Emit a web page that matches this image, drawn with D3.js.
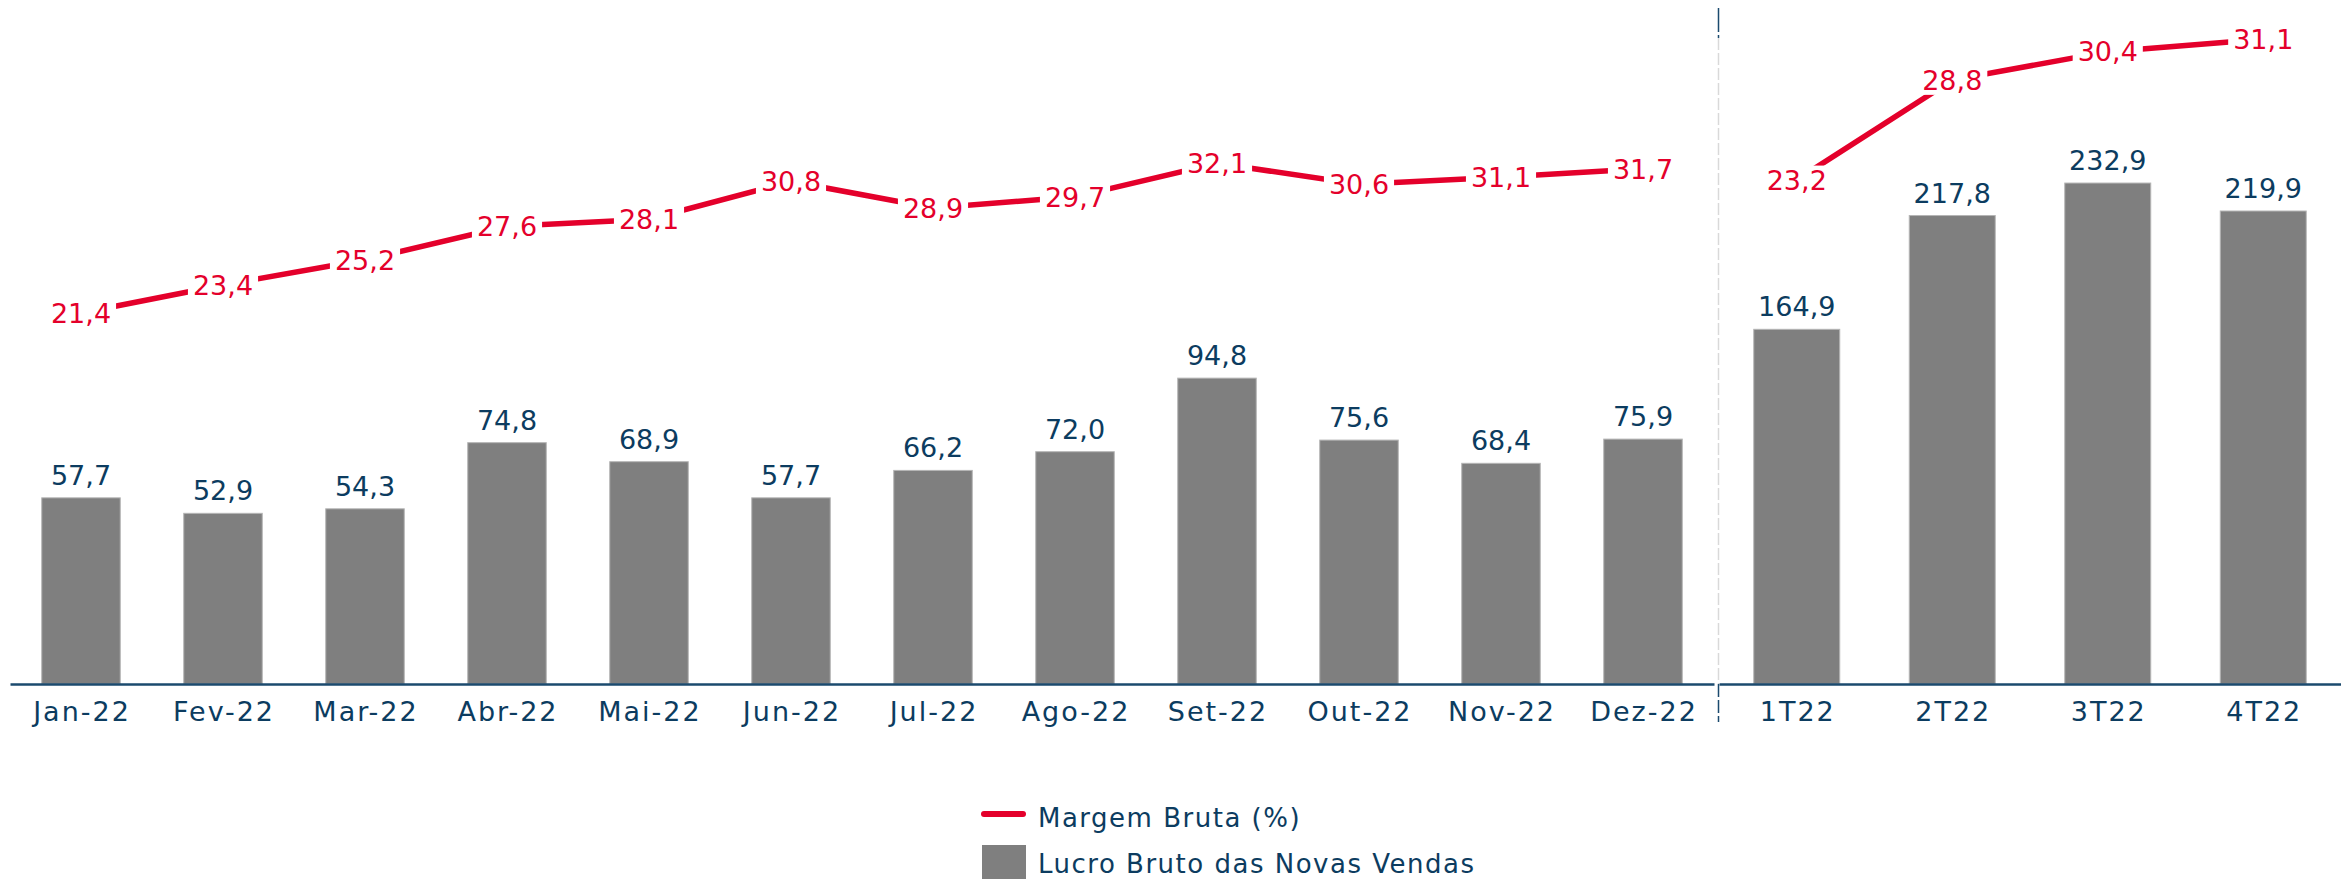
<!DOCTYPE html>
<html>
<head>
<meta charset="utf-8">
<script src="https://cdnjs.cloudflare.com/ajax/libs/d3/7.8.5/d3.min.js"></script>
<style>
  body { margin: 0; background: #fff; }
  svg { display: block; font-family: "DejaVu Sans", sans-serif; }
</style>
</head>
<body>
<svg id="chart" width="2341" height="879"></svg>
<script>
// dados mensais
const months = ["Jan-22", "Fev-22", "Mar-22", "Abr-22", "Mai-22", "Jun-22",
                "Jul-22", "Ago-22", "Set-22", "Out-22", "Nov-22", "Dez-22"];
const lucroMensal = [57.7, 52.9, 54.3, 74.8, 68.9, 57.7, 66.2, 72.0, 94.8, 75.6, 68.4, 75.9];
const margemMensal = [21.4, 23.4, 25.2, 27.6, 28.1, 30.8, 28.9, 29.7, 32.1, 30.6, 31.1, 31.7];

// dados trimestrais
const quarters = ["1T22", "2T22", "3T22", "4T22"];
const lucroTrimestral = [164.9, 217.8, 232.9, 219.9];
const margemTrimestral = [23.2, 28.8, 30.4, 31.1];

const legendItems = ["Margem Bruta (%)", "Lucro Bruto das Novas Vendas"];

const RED = "#e4002b";
const BLUE = "#0c3c60";
const GREY = "#7f7f7f";
const baseY = 684;

const fmt = v => d3.format(".1f")(v).replace(".", ",");

const svg = d3.select("#chart");

function panel(cats, bars, margins, x0, x1, barMax, lineMax, lineBase) {
    const x = d3.scaleBand()
        .domain(cats)
        .range([x0, x1])
        .paddingInner(0.447)
        .paddingOuter(0.2235);
    const yBar = d3.scaleLinear().domain([0, barMax]).range([baseY, 0]);
    const yLine = d3.scaleLinear().domain([0, lineMax]).range([lineBase, 0]);
    const cx = i => x(cats[i]) + x.bandwidth() / 2;

    const g = svg.append("g");

    g.selectAll("rect.bar")
        .data(bars)
        .join("rect")
        .attr("class", "bar")
        .attr("x", (d, i) => x(cats[i]))
        .attr("width", x.bandwidth())
        .attr("y", d => yBar(d))
        .attr("height", d => baseY - yBar(d))
        .attr("fill", GREY)
        .attr("stroke", "#b5b5b5")
        .attr("stroke-width", 1);

    g.selectAll("text.val")
        .data(bars)
        .join("text")
        .attr("class", "val")
        .attr("x", (d, i) => cx(i))
        .attr("y", d => yBar(d) - 13)
        .attr("text-anchor", "middle")
        .attr("font-size", 27)
        .attr("fill", BLUE)
        .text(d => fmt(d));

    // eixo
    const axis = g.append("g")
        .attr("transform", `translate(0,${baseY})`)
        .call(d3.axisBottom(x).tickSize(0).tickSizeOuter(0).tickPadding(18));
    axis.select(".domain").attr("stroke", "#1b4a6e").attr("stroke-width", 2.5);
    axis.selectAll("text")
        .attr("font-size", 27)
        .attr("letter-spacing", 2)
        .attr("dx", 1)
        .attr("font-family", "DejaVu Sans, sans-serif")
        .attr("fill", BLUE);

    // linha da margem
    const line = d3.line()
        .x((d, i) => cx(i))
        .y(d => yLine(d));
    g.append("path")
        .datum(margins)
        .attr("d", line)
        .attr("fill", "none")
        .attr("stroke", RED)
        .attr("stroke-width", 5.5);

    const lbl = g.selectAll("g.marg")
        .data(margins)
        .join("g")
        .attr("class", "marg");
    const bg = lbl.append("rect").attr("fill", "#fff");
    const txt = lbl.append("text")
        .attr("x", (d, i) => cx(i))
        .attr("y", d => yLine(d))
        .attr("dy", "0.36em")
        .attr("text-anchor", "middle")
        .attr("font-size", 27)
        .attr("fill", RED)
        .text(d => fmt(d));
    // fundo branco que corta a linha em volta do rótulo
    txt.each(function (d, i) {
        const b = this.getBBox();
        d3.select(bg.nodes()[i])
            .attr("x", b.x - 5)
            .attr("y", b.y + 1)
            .attr("width", b.width + 10)
            .attr("height", b.height - 2);
    });
}

panel(months, lucroMensal, margemMensal, 10, 1714, 212, 43.76, 612.6);
panel(quarters, lucroTrimestral, margemTrimestral, 1719, 2341, 318, 33.3, 593);

// divisor tracejado
const divX = 1718.5;
svg.append("line")
    .attr("x1", divX).attr("x2", divX).attr("y1", 38).attr("y2", baseY)
    .attr("stroke", "#d9d9d9").attr("stroke-width", 1.5)
    .attr("stroke-dasharray", "12,3");
svg.append("line")
    .attr("x1", divX).attr("x2", divX).attr("y1", 8).attr("y2", 38)
    .attr("stroke", "#1b4a6e").attr("stroke-width", 1.5)
    .attr("stroke-dasharray", "24,3");
svg.append("line")
    .attr("x1", divX).attr("x2", divX).attr("y1", baseY).attr("y2", 722)
    .attr("stroke", "#1b4a6e").attr("stroke-width", 1.5)
    .attr("stroke-dasharray", "13,3");

// legenda
const leg = svg.append("g");
leg.append("line")
    .attr("x1", 984).attr("x2", 1023).attr("y1", 814).attr("y2", 814)
    .attr("stroke", RED).attr("stroke-width", 6).attr("stroke-linecap", "round");
leg.append("rect")
    .attr("x", 982).attr("y", 845).attr("width", 44).attr("height", 44)
    .attr("fill", GREY);
leg.selectAll("text")
    .data(legendItems)
    .join("text")
    .attr("x", 1038)
    .attr("y", (d, i) => i === 0 ? 826.5 : 873)
    .attr("font-size", 26)
    .attr("letter-spacing", 1.5)
    .attr("fill", BLUE)
    .text(d => d);
</script>
</body>
</html>
